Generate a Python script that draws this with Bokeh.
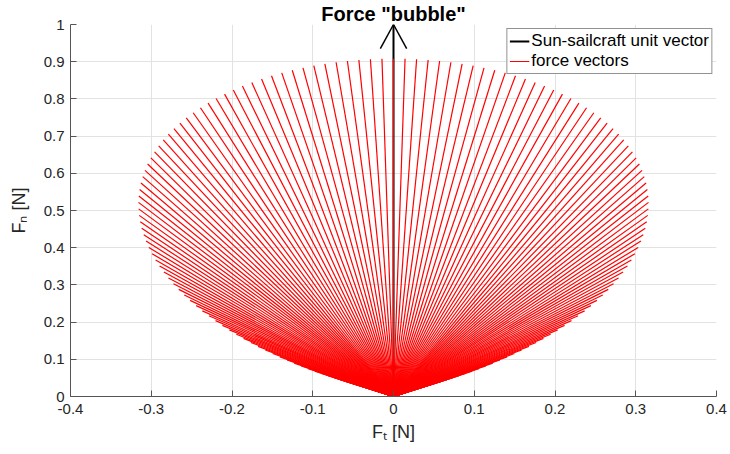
from bokeh.plotting import figure
from bokeh.models import Legend, LegendItem, FixedTicker, ColumnDataSource, Range1d
from bokeh.embed import file_html
from bokeh.resources import INLINE

# Sail cone angle 0..90 deg (1 deg steps); force components read from the bubble (right half)
alpha_deg = list(range(0, 91))
ft_right = [
    0.0000, 0.0143, 0.0286, 0.0429, 0.0571, 0.0711, 0.0850, 0.0987, 0.1121, 0.1254,
    0.1384, 0.1511, 0.1634, 0.1755, 0.1871, 0.1984, 0.2092, 0.2197, 0.2296, 0.2391,
    0.2481, 0.2566, 0.2645, 0.2719, 0.2788, 0.2851, 0.2908, 0.2959, 0.3005, 0.3045,
    0.3078, 0.3106, 0.3128, 0.3144, 0.3154, 0.3158, 0.3156, 0.3149, 0.3136, 0.3118,
    0.3093, 0.3064, 0.3030, 0.2990, 0.2946, 0.2897, 0.2844, 0.2787, 0.2725, 0.2660,
    0.2591, 0.2519, 0.2444, 0.2367, 0.2286, 0.2204, 0.2119, 0.2033, 0.1946, 0.1857,
    0.1767, 0.1677, 0.1587, 0.1497, 0.1407, 0.1318, 0.1230, 0.1143, 0.1057, 0.0974,
    0.0892, 0.0812, 0.0735, 0.0661, 0.0590, 0.0522, 0.0457, 0.0396, 0.0339, 0.0286,
    0.0236, 0.0192, 0.0151, 0.0115, 0.0084, 0.0058, 0.0036, 0.0020, 0.0008, 0.0002,
    0.0000,
]
fn_right = [
    0.9082, 0.9078, 0.9066, 0.9047, 0.9019, 0.8985, 0.8942, 0.8893, 0.8835, 0.8771,
    0.8699, 0.8620, 0.8535, 0.8442, 0.8344, 0.8239, 0.8128, 0.8011, 0.7888, 0.7761,
    0.7628, 0.7490, 0.7348, 0.7201, 0.7051, 0.6896, 0.6739, 0.6578, 0.6415, 0.6249,
    0.6080, 0.5910, 0.5739, 0.5566, 0.5392, 0.5218, 0.5044, 0.4869, 0.4695, 0.4521,
    0.4348, 0.4177, 0.4007, 0.3839, 0.3672, 0.3508, 0.3347, 0.3188, 0.3032, 0.2879,
    0.2730, 0.2584, 0.2442, 0.2303, 0.2169, 0.2039, 0.1913, 0.1791, 0.1674, 0.1561,
    0.1452, 0.1349, 0.1250, 0.1155, 0.1065, 0.0980, 0.0899, 0.0823, 0.0751, 0.0683,
    0.0620, 0.0561, 0.0506, 0.0455, 0.0407, 0.0363, 0.0323, 0.0286, 0.0252, 0.0220,
    0.0192, 0.0166, 0.0142, 0.0120, 0.0099, 0.0080, 0.0063, 0.0046, 0.0030, 0.0015,
    0.0000,
]
# Sun-sailcraft unit vector
sun_x = [0.0]
sun_y = [1.0]

x_ticks = [-0.4, -0.3, -0.2, -0.1, 0, 0.1, 0.2, 0.3, 0.4]
x_tick_labels = ["-0.4", "-0.3", "-0.2", "-0.1", "0", "0.1", "0.2", "0.3", "0.4"]
y_ticks = [0, 0.1, 0.2, 0.3, 0.4, 0.5, 0.6, 0.7, 0.8, 0.9, 1]
y_tick_labels = ["0", "0.1", "0.2", "0.3", "0.4", "0.5", "0.6", "0.7", "0.8", "0.9", "1"]

title_text = 'Force "bubble"'
x_label = "F\u209c [N]"
y_label = "F\u2099 [N]"
legend_labels = ["Sun-sailcraft unit vector", "force vectors"]

# symmetric left half (negative cone angles)
ft_all = [-v for v in reversed(ft_right[1:])] + ft_right
fn_all = list(reversed(fn_right[1:])) + fn_right
n = len(ft_all)

FONT = "Liberation Sans"
TXT = "#262626"

p = figure(width=730, height=454, output_backend="svg", toolbar_location=None,
           x_range=Range1d(-0.4, 0.4), y_range=Range1d(0, 1),
           min_border_left=70, min_border_right=14, min_border_top=0, min_border_bottom=58,
           background_fill_color="white", border_fill_color="white")
p.outline_line_color = None

p.title.text = title_text
p.title.align = "center"
p.title.text_font = FONT
p.title.text_font_size = "20px"
p.title.text_font_style = "bold"
p.title.text_color = "black"
p.title.standoff = 0
p.title.offset = 0

for ax, ticks, labels in ((p.xaxis[0], x_ticks, x_tick_labels), (p.yaxis[0], y_ticks, y_tick_labels)):
    ax.ticker = FixedTicker(ticks=ticks)
    ax.major_label_overrides = {t: l for t, l in zip(ticks, labels)}
    ax.major_tick_in = 6
    ax.major_tick_out = 0
    ax.minor_tick_line_color = None
    ax.axis_line_color = "#555555"
    ax.major_tick_line_color = "#555555"
    ax.major_label_text_font = FONT
    ax.major_label_text_font_size = "15px"
    ax.major_label_text_color = TXT
    ax.axis_label_text_font = FONT
    ax.axis_label_text_font_size = "18px"
    ax.axis_label_text_font_style = "normal"
    ax.axis_label_text_color = TXT
p.xaxis.major_label_standoff = 7
p.yaxis.major_label_standoff = 6
p.xaxis.axis_label = x_label
p.yaxis.axis_label = y_label
p.xaxis.axis_label_standoff = 5
p.yaxis.axis_label_standoff = 12

p.xgrid.ticker = FixedTicker(ticks=x_ticks)
p.ygrid.ticker = FixedTicker(ticks=y_ticks)
p.grid.grid_line_color = "#e2e2e2"
p.grid.grid_line_width = 1

# Sun-sailcraft unit vector (black arrow)
sun_src = ColumnDataSource(dict(x0=[0.0], y0=[0.0], x1=sun_x, y1=sun_y))
shaft = p.segment("x0", "y0", "x1", "y1", source=sun_src, line_color="black", line_width=2)
head_dx, head_dy = 0.0163, 0.065
head_src = ColumnDataSource(dict(
    x0=[sun_x[0] - head_dx, sun_x[0] + head_dx], y0=[sun_y[0] - head_dy, sun_y[0] - head_dy],
    x1=[sun_x[0], sun_x[0]], y1=[sun_y[0], sun_y[0]]))
p.segment("x0", "y0", "x1", "y1", source=head_src, line_color="black", line_width=1.5)

# force vectors
f_src = ColumnDataSource(dict(x0=[0.0] * n, y0=[0.0] * n, x1=ft_all, y1=fn_all))
forces = p.segment("x0", "y0", "x1", "y1", source=f_src, line_color="#ff0000", line_width=1.2)

legend = Legend(items=[LegendItem(label=legend_labels[0], renderers=[shaft]),
                       LegendItem(label=legend_labels[1], renderers=[forces])],
                location="top_right")
legend.margin = 4
legend.padding = 2
legend.spacing = 0
legend.label_height = 20
legend.glyph_height = 20
legend.glyph_width = 20
legend.label_standoff = 2
legend.label_text_font = FONT
legend.label_text_font_size = "17px"
legend.label_text_color = "black"
legend.border_line_color = TXT
legend.border_line_width = 1
legend.background_fill_color = "white"
legend.background_fill_alpha = 1
p.add_layout(legend)

open("out.html", "w").write(file_html(p, INLINE))
